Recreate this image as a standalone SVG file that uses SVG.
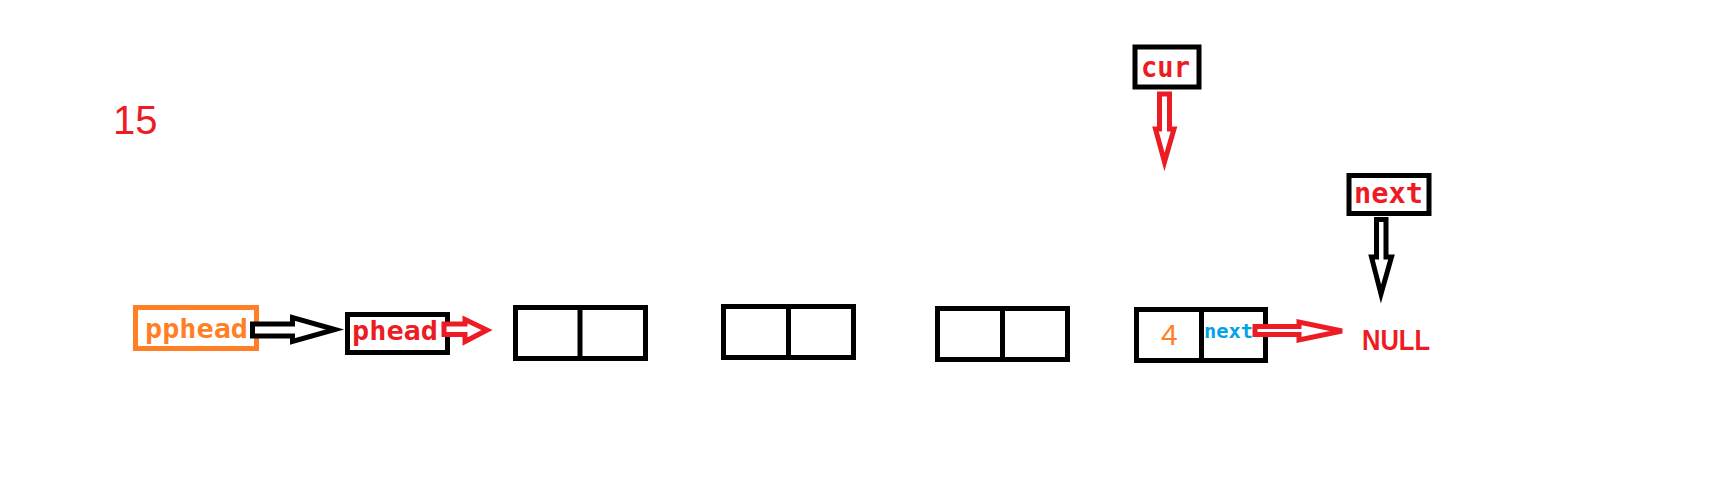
<svg xmlns="http://www.w3.org/2000/svg" width="1728" height="499" viewBox="0 0 1728 499">
<style>
.box{fill:none;stroke:#000;stroke-width:5}
.obox{fill:none;stroke:#FF7F27;stroke-width:5}
.div{stroke:#000;stroke-width:5}
.lbl{font-family:"DejaVu Sans Mono","Liberation Mono",monospace;font-weight:bold}
.red{fill:#ED1C24}
.org{fill:#FF7F27}
.blu{fill:#00A2E8}
.arr-r{fill:#fff;stroke:#ED1C24;stroke-width:5;stroke-linejoin:miter}
.arr-k{fill:#fff;stroke:#000;stroke-width:5;stroke-linejoin:miter}
</style>
<rect width="1728" height="499" fill="#fff"/>
<g id="title">
<text x="113" y="134" font-family="Liberation Sans, Arial, sans-serif" font-size="40" class="red">15</text>
</g>
<g id="pphead">
<rect class="obox" x="135.5" y="307.5" width="121" height="41"/>
<text x="145" y="337.5" font-size="27" class="lbl org" textLength="103" lengthAdjust="spacingAndGlyphs">pphead</text>
</g>
<g id="phead">
<rect class="box" x="347.5" y="314.5" width="100" height="38"/>
<text x="352" y="340" font-size="27" class="lbl red" textLength="86" lengthAdjust="spacingAndGlyphs">phead</text>
</g>
<g id="node1">
<rect class="box" x="515.5" y="307.5" width="130" height="51"/>
<line class="div" x1="580" y1="307.5" x2="580" y2="358.5"/>
</g>
<g id="node2">
<rect class="box" x="723.5" y="306.5" width="130" height="51"/>
<line class="div" x1="788.5" y1="306.5" x2="788.5" y2="357.5"/>
</g>
<g id="node3">
<rect class="box" x="937.5" y="308.5" width="130" height="51"/>
<line class="div" x1="1002.5" y1="308.5" x2="1002.5" y2="359.5"/>
</g>
<g id="node4">
<rect class="box" x="1136.5" y="309.5" width="129" height="51"/>
<line class="div" x1="1201.5" y1="309.5" x2="1201.5" y2="360.5"/>
<text x="1161" y="345" font-family="Liberation Sans, Arial, sans-serif" font-size="30" class="org">4</text>
<text x="1204" y="338" font-size="20" class="lbl blu" textLength="49" lengthAdjust="spacingAndGlyphs">next</text>
</g>
<g id="cur">
<rect class="box" x="1135" y="47" width="64" height="40"/>
<text x="1141" y="77" font-size="28" class="lbl red" textLength="49" lengthAdjust="spacingAndGlyphs">cur</text>
</g>
<g id="next">
<rect class="box" x="1349" y="175.5" width="80" height="38"/>
<text x="1354" y="203" font-size="28" class="lbl red" textLength="69" lengthAdjust="spacingAndGlyphs">next</text>
</g>
<g id="null">
<text x="1362" y="350" font-family="Liberation Sans, Arial, sans-serif" font-weight="bold" font-size="30" class="red" textLength="68" lengthAdjust="spacingAndGlyphs">NULL</text>
</g>
<g id="connectors">
<path class="arr-k" d="M252.5,324 L292.5,324 L292.5,317.5 L335,329.5 L292.5,341.5 L292.5,336 L252.5,336 Z"/>
<path class="arr-r" d="M444,324 L465,324 L465,319.5 L487,330 L465,341.5 L465,334.5 L444,334.5 Z"/>
<path class="arr-r" d="M1255,326.5 L1299,326.5 L1299,322 L1342,331 L1299,340 L1299,334.5 L1255,334.5 Z"/>
<path class="arr-r" d="M1159.5,94 L1169.5,94 L1169.5,129 L1174,129 L1164.5,162 L1155.5,129 L1159.5,129 Z"/>
<path class="arr-k" d="M1376.5,219.5 L1386,219.5 L1386,257 L1391.5,257 L1381,294 L1371.5,257 L1376.5,257 Z"/>
</g>
</svg>
